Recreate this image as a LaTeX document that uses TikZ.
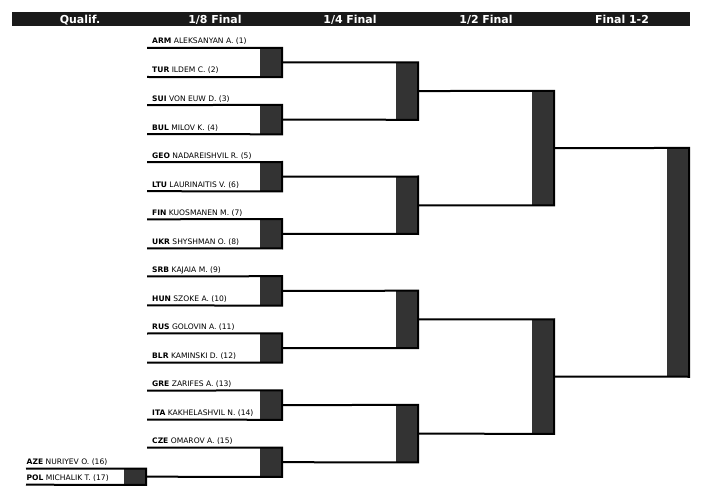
\documentclass[tikz,border=0pt]{standalone}
\usepackage{fontspec}
\setmainfont{DejaVu Sans}
\definecolor{barcol}{HTML}{1A1A1A}
\definecolor{boxcol}{HTML}{333333}
\begin{document}
\begin{tikzpicture}[x=1bp,y=-1bp,
  hdrbar/.style={fill=barcol,draw=none,inner sep=0,minimum width=678bp,minimum height=14.5bp},
  hdrtext/.style={text=white,anchor=base,inner sep=0,font=\fontsize{11}{13}\selectfont\bfseries},
  pbox/.style={fill=boxcol,draw=none,inner sep=0,minimum width=22bp},
  wire/.style={line width=2bp,black},
  plabel/.style={anchor=base west,inner sep=0,font=\fontsize{7.6}{9}\selectfont}]
\useasboundingbox (0,0) rectangle (708,500);
% header
\node[hdrbar] (bar) at (351,19.25) {};
\node[hdrtext] (h0) at (80,23.3) {Qualif.};
\node[hdrtext] (h1) at (215,23.3) {1/8 Final};
\node[hdrtext] (h2) at (350,23.3) {1/4 Final};
\node[hdrtext] (h3) at (486,23.3) {1/2 Final};
\node[hdrtext] (h4) at (622,23.3) {Final 1-2};
% 1/8 final pairs
\foreach \k/\a/\na/\b/\nb in {
  1/ARM/ALEKSANYAN A. (1)/TUR/ILDEM C. (2),
  2/SUI/VON EUW D. (3)/BUL/MILOV K. (4),
  3/GEO/NADAREISHVIL R. (5)/LTU/LAURINAITIS V. (6),
  4/FIN/KUOSMANEN M. (7)/UKR/SHYSHMAN O. (8),
  5/SRB/KAJAIA M. (9)/HUN/SZOKE A. (10),
  6/RUS/GOLOVIN A. (11)/BLR/KAMINSKI D. (12),
  7/GRE/ZARIFES A. (13)/ITA/KAKHELASHVIL N. (14)}{
  \pgfmathsetmacro\ytp{48+57.1*(\k-1)}
  \pgfmathsetmacro\ymd{\ytp+14.5}
  \pgfmathsetmacro\ybt{\ytp+29}
  \node[pbox,minimum height=29bp] (e\k) at (271,\ymd) {};
  \coordinate (pa\k) at (147,\ytp);
  \coordinate (pb\k) at (147,\ybt);
  \node[plabel] (la\k) at (152,{\ytp-4}) {\textbf{\a} \na};
  \node[plabel] (lb\k) at (152,{\ybt-4}) {\textbf{\b} \nb};
  \draw[wire] (pa\k) -- (e\k.north east) -- (e\k.south east) -- (pb\k);
}
% pair 8 with qualification
\node[pbox,minimum height=29bp] (e8) at (271,462.2) {};
\coordinate (pa8) at (147,447.7);
\node[plabel] (la8) at (152,443.7) {\textbf{CZE} OMAROV A. (15)};
\node[pbox,minimum height=16bp] (q) at (135,476.7) {};
\coordinate (qa) at (26,468.7);
\coordinate (qb) at (26,484.7);
\node[plabel] (lqa) at (26.5,464.5) {\textbf{AZE} NURIYEV O. (16)};
\node[plabel] (lqb) at (26.5,480.5) {\textbf{POL} MICHALIK T. (17)};
\draw[wire] (qa) -- (q.north east) -- (q.south east) -- (qb);
\draw[wire] (pa8) -- (e8.north east) -- (e8.south east) -- (q.east);
% 1/4 final
\node[pbox,minimum height=57.1bp] (f1) at (407,91.05) {};
\node[pbox,minimum height=57.1bp] (f2) at (407,205.25) {};
\node[pbox,minimum height=57.1bp] (f3) at (407,319.45) {};
\node[pbox,minimum height=57.1bp] (f4) at (407,433.65) {};
\draw[wire] (e1.east) -- (f1.north east) -- (f1.south east) -- (e2.east);
\draw[wire] (e3.east) -- (f2.north east) -- (f2.south east) -- (e4.east);
\draw[wire] (e5.east) -- (f3.north east) -- (f3.south east) -- (e6.east);
\draw[wire] (e7.east) -- (f4.north east) -- (f4.south east) -- (e8.east);
% 1/2 final
\node[pbox,minimum height=114.2bp] (g1) at (543,148.15) {};
\node[pbox,minimum height=114.2bp] (g2) at (543,376.55) {};
\draw[wire] (f1.east) -- (g1.north east) -- (g1.south east) -- (f2.east);
\draw[wire] (f3.east) -- (g2.north east) -- (g2.south east) -- (f4.east);
% final
\node[pbox,minimum height=228.4bp] (fin) at (678,262.35) {};
\draw[wire] (g1.east) -- (fin.north east) -- (fin.south east) -- (g2.east);
\end{tikzpicture}
\end{document}
